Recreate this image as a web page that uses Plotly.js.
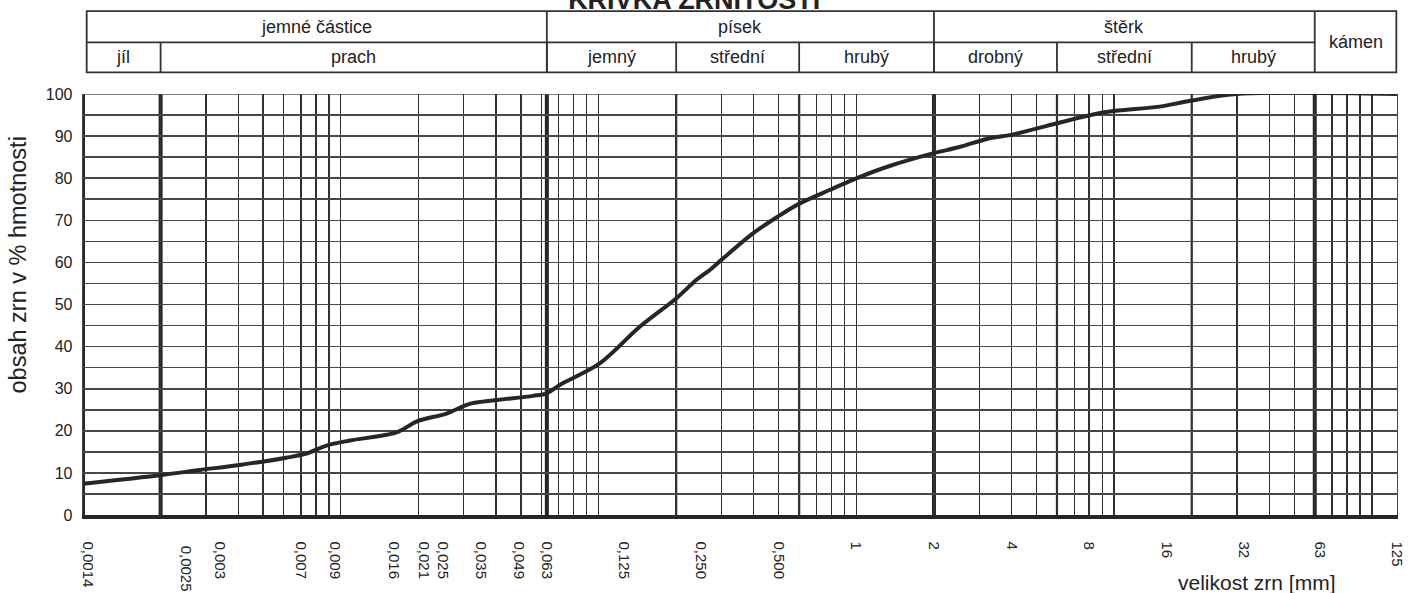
<!DOCTYPE html>
<html>
<head>
<meta charset="utf-8">
<script src="https://cdn.plot.ly/plotly-3.0.1.min.js"></script>
<style>
html,body{margin:0;padding:0;background:#fff;}
#chart{width:1408px;height:593px;}
</style>
</head>
<body>
<div id="chart"></div>
<script>
// ---- data (grain size in mm, cumulative passing in %) ----
const grainSizeMm = [0.001, 0.00202, 0.00284, 0.00406, 0.00615, 0.00736, 0.0088, 0.01085, 0.01644, 0.01967, 0.0257, 0.03163, 0.03898, 0.0557, 0.0628, 0.0707, 0.101, 0.1444, 0.2005, 0.2393, 0.270, 0.2994, 0.397, 0.4963, 0.5986, 0.787, 0.984, 1.345, 1.981, 2.51, 3.287, 3.99, 5.96, 9.036, 14.99, 19.78, 29.73, 125];
const passingPct  = [7.4, 9.5, 10.7, 11.9, 13.6, 14.6, 16.5, 17.7, 19.6, 22.2, 24.1, 26.4, 27.2, 28.3, 28.9, 30.9, 36.0, 44.7, 51.5, 55.8, 58.2, 60.6, 66.9, 70.9, 73.9, 77.2, 79.8, 82.9, 85.9, 87.4, 89.5, 90.3, 93.0, 95.6, 97.0, 98.4, 100, 100];

// x tick labels and the grain sizes where they are printed
const xTickText = ['0,0014', '\u00a00,0025', '0,003', '0,007', '0,009', '0,016', '0,021', '0,025', '0,035', '0,049', '0,063', '0,125', '0,250', '0,500', '1', '2', '4', '8', '16', '32', '63', '125'];
const xTickMm   = [0.00104, 0.0025, 0.0034, 0.007, 0.0095, 0.016, 0.021, 0.025, 0.035, 0.049, 0.063, 0.125, 0.25, 0.5, 1, 2, 4, 8, 16, 32, 63, 125];
const yTickVals = [0, 10, 20, 30, 40, 50, 60, 70, 80, 90, 100];

// fraction boundaries (mm)
const mainBounds = [0.001, 0.002, 0.063, 2, 60];
const subBounds  = [0.2, 0.6, 6, 20];

// header table
const topRowText   = ['jemné částice', 'písek', 'štěrk'];
const topRowFrom   = [0.00103, 0.063, 2];
const topRowTo     = [0.063, 2, 60];
const subRowText   = ['jíl', 'prach', 'jemný', 'střední', 'hrubý', 'drobný', 'střední', 'hrubý'];
const subRowFrom   = [0.00103, 0.002, 0.063, 0.2, 0.6, 2, 6, 20];
const subRowTo     = [0.002, 0.063, 0.2, 0.6, 2, 6, 20, 60];
const lastCellText = 'kámen';
const lastCellFrom = 60, lastCellTo = 125;

const FONT = 'Liberation Sans, Arial, sans-serif';
const INK = '#222';
const VGRID = '#303030';
const HGRID = '#474747';

// header geometry in paper units
const H_TOP = 1.197, H_MID = 1.1225, H_BOT = 1.0515;
const H_LEFT = 0.0028, H_RIGHT = 0.9995;

const shapes = [];
const annotations = [];

// thick fraction boundaries inside the plot
mainBounds.forEach(v => shapes.push({type:'line', xref:'x', yref:'paper', x0:v, x1:v, y0:0, y1:1,
  line:{color:'#262626', width:4}, layer:'between'}));
subBounds.forEach(v => shapes.push({type:'line', xref:'x', yref:'paper', x0:v, x1:v, y0:0, y1:1,
  line:{color:'#2a2a2a', width:2.2}, layer:'between'}));
// top border of the plot
shapes.push({type:'line', xref:'paper', yref:'y', x0:0, x1:1, y0:100, y1:100, line:{color:'#555', width:1.4}, layer:'between'});

// header table
const hline = {color:'#333', width:1.8};
shapes.push({type:'rect', xref:'paper', yref:'paper', x0:H_LEFT, x1:H_RIGHT, y0:H_BOT, y1:H_TOP, line:hline});
shapes.push({type:'line', xref:'x', yref:'paper', x0:topRowFrom[0], x1:lastCellFrom, y0:H_MID, y1:H_MID, line:hline});
topRowTo.forEach(v => shapes.push({type:'line', xref:'x', yref:'paper', x0:v, x1:v, y0:H_BOT, y1:H_TOP, line:hline}));
subRowTo.slice(0, -1).forEach(v => shapes.push({type:'line', xref:'x', yref:'paper', x0:v, x1:v, y0:H_BOT, y1:H_MID, line:hline}));

const mid = (a, b) => (Math.log10(a) + Math.log10(b)) / 2;
const hfont = {family:FONT, size:18, color:INK};
topRowText.forEach((t, i) => annotations.push({text:t, xref:'x', yref:'paper', x:mid(topRowFrom[i], topRowTo[i]),
  y:(H_TOP + H_MID) / 2, showarrow:false, xanchor:'center', yanchor:'middle', font:hfont}));
subRowText.forEach((t, i) => annotations.push({text:t, xref:'x', yref:'paper', x:mid(subRowFrom[i], subRowTo[i]),
  y:(H_MID + H_BOT) / 2, showarrow:false, xanchor:'center', yanchor:'middle', font:hfont}));
annotations.push({text:lastCellText, xref:'x', yref:'paper', x:mid(lastCellFrom, lastCellTo), y:(H_TOP + H_BOT) / 2,
  showarrow:false, xanchor:'center', yanchor:'middle', font:hfont});

// axis titles
annotations.push({text:'obsah zrn v % hmotnosti', xref:'paper', yref:'paper', x:-0.0495, y:0.595, textangle:-90,
  showarrow:false, xanchor:'center', yanchor:'middle', font:{family:FONT, size:23.5, color:INK}});
annotations.push({text:'velikost zrn [mm]', xref:'paper', yref:'paper', x:0.8938, y:-0.128,
  showarrow:false, xanchor:'center', yanchor:'top', font:{family:FONT, size:21, color:INK}});

const trace = {
  type:'scatter', mode:'lines', x:grainSizeMm, y:passingPct,
  line:{color:'#262626', width:4, shape:'spline', smoothing:0.9},
  hoverinfo:'skip', showlegend:false
};

const layout = {
  width:1408, height:593,
  margin:{l:83, r:11, t:94, b:78},
  paper_bgcolor:'#fff', plot_bgcolor:'#fff',
  showlegend:false,
  title:{text:'<b>KŘIVKA ZRNITOSTI</b>', font:{family:FONT, size:27, color:INK},
    x:0.493, xref:'container', xanchor:'center', y:1, yref:'container', yanchor:'middle'},
  xaxis:{
    type:'log', range:[-3, Math.log10(125) + 0.0003], fixedrange:true,
    tickmode:'array', tickvals:xTickMm, ticktext:xTickText, tickangle:90,
    ticks:'', showgrid:false, zeroline:false,
    ticklabelstandoff:20,
    tickfont:{family:FONT, size:15, color:INK},
    minor:{dtick:'D1', showgrid:true, gridcolor:VGRID, gridwidth:1.4, ticks:''},
    showline:true, linecolor:'#262626', linewidth:3.5
  },
  yaxis:{
    range:[0, 100], fixedrange:true,
    tickmode:'array', tickvals:yTickVals, ticks:'',
    showgrid:true, gridcolor:HGRID, gridwidth:1.6, zeroline:false,
    minor:{dtick:5, showgrid:true, gridcolor:HGRID, gridwidth:1.6, ticks:''},
    ticklabelstandoff:6,
    tickfont:{family:FONT, size:16, color:INK},
    showline:true, mirror:true, linecolor:'#444', linewidth:1.3
  },
  shapes:shapes,
  annotations:annotations
};

Plotly.newPlot('chart', [trace], layout, {displayModeBar:false, staticPlot:true});
</script>
</body>
</html>
